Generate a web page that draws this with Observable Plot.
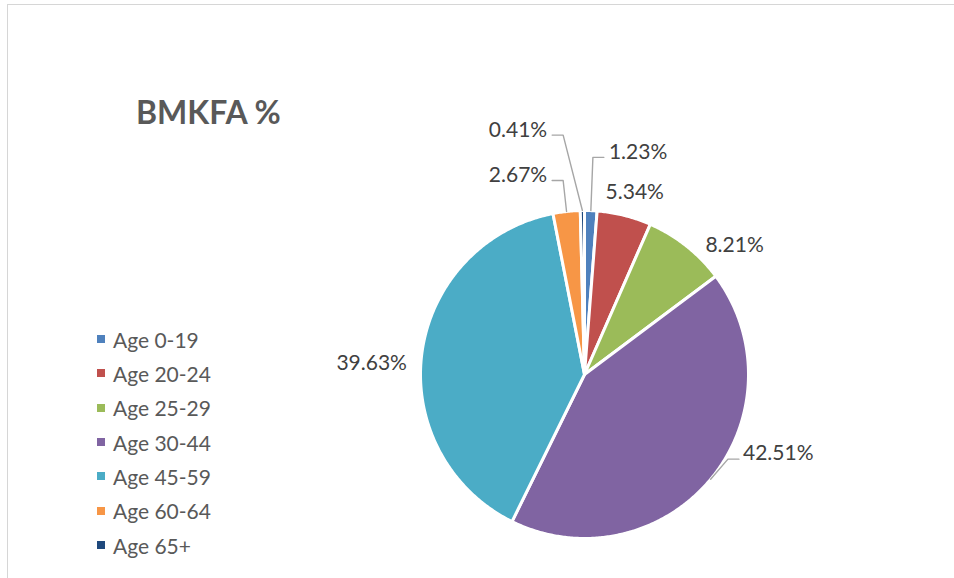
<!DOCTYPE html>
<html>
<head>
<meta charset="utf-8">
<script src="https://cdn.jsdelivr.net/npm/d3@7"></script>
<script src="https://cdn.jsdelivr.net/npm/@observablehq/plot@0.6"></script>
<style>
  body { margin: 0; background: #fff; }
  #wrap { position: relative; width: 954px; height: 578px; overflow: hidden; font-family: Lato, "Open Sans", sans-serif; }
  #frame { position: absolute; left: 7px; top: 4px; width: 1100px; height: 800px; border: 1px solid #d6d6d6; box-sizing: border-box; }
  #chart { position: absolute; left: 0; top: 0; }
  #title { position: absolute; left: 136px; top: 93px; font-size: 32px; line-height: 38px; font-weight: bold; color: #595959; white-space: nowrap; }
  #legend { position: absolute; left: 97px; top: 322px; }
  .row { display: flex; align-items: center; height: 34.33px; }
  .sw { width: 8px; height: 8px; margin-right: 8px; }
  .lt { font-size: 21px; line-height: 25px; color: #595959; white-space: nowrap; }
</style>
</head>
<body>
<div id="wrap">
  <div id="frame"></div>
  <div id="chart"></div>
  <div id="title"></div>
  <div id="legend"></div>
</div>
<script>
// ---- data ----
const chartTitle = "BMKFA %";
const ages = ["Age 0-19", "Age 20-24", "Age 25-29", "Age 30-44", "Age 45-59", "Age 60-64", "Age 65+"];
const shares = [1.23, 5.34, 8.21, 42.51, 39.63, 2.67, 0.41];
const colors = ["#4F81BD", "#C0504D", "#9BBB59", "#8064A2", "#4BACC6", "#F79646", "#1F497D"];
const labels = shares.map(v => v.toFixed(2) + "%");

// ---- layout (styles) ----
const W = 954, H = 578;
const R = 164, CX = 584, CY = 374;           // pie radius / centre in px
const FS = 21;                               // label font size
const labelNudgeDeg = [0, 0, 8, -15, -4, 0, 0]; // best-fit style angular nudge of labels
const px = 1 / R;                            // one pixel in scale units

const arcs = d3.pie().sort(null).value(d => d)(shares);

// slice polygons in unit-circle space (angle clockwise from 12 o'clock)
const slicePts = arcs.flatMap((a, i) => {
  const n = Math.max(2, Math.ceil((a.endAngle - a.startAngle) / (Math.PI / 360)));
  const pts = [{age: ages[i], x: 0, y: 0}];
  for (let k = 0; k <= n; k++) {
    const t = a.startAngle + (a.endAngle - a.startAngle) * k / n;
    pts.push({age: ages[i], x: Math.sin(t), y: Math.cos(t)});
  }
  return pts;
});

// label measurement
const ctx = document.createElement("canvas").getContext("2d");
ctx.font = `${FS}px Lato`;
const tw = s => ctx.measureText(s).width * px;

const labelRows = [];
const leaderPts = [];

// tiny slices: stacked labels with elbow leader lines
const tiny = shares.map((v, i) => i).filter(i => shares[i] < 3).sort((a, b) => shares[b] - shares[a]);
let lastLeft = Infinity, lastRight = -Infinity;
tiny.forEach((i, k) => {
  const a = arcs[i];
  const mid = (a.startAngle + a.endAngle) / 2;
  const s = Math.sin(mid) > 0 ? 1 : -1;
  const rho = 1.19 + 0.135 * k;
  let ex = Math.sin(mid) * rho;
  const ey = Math.cos(mid) * rho;
  if (s < 0) { ex = Math.min(ex, lastLeft); lastLeft = ex; }
  else { ex = Math.max(ex, lastRight); lastRight = ex; }
  const tx = ex + s * 11 * px;
  leaderPts.push({id: i, x: Math.sin(mid), y: Math.cos(mid)}, {id: i, x: ex, y: ey}, {id: i, x: tx, y: ey});
  const w = tw(labels[i]);
  labelRows.push({text: labels[i], x: tx + s * (5 * px + w / 2), y: ey + 5 * px});
});

// other slices: outside labels
arcs.forEach((a, i) => {
  if (shares[i] < 3) return;
  const mid = (a.startAngle + a.endAngle) / 2;
  const th = mid + labelNudgeDeg[i] * Math.PI / 180;
  const w = tw(labels[i]), h = 20 * px, Rl = 1 + 14 * px;
  const cx = Math.sin(th) * (Rl + w / 2);
  const cy = Math.cos(th) * (Rl + h / 2);
  labelRows.push({text: labels[i], x: cx, y: cy});
  if (Math.abs(labelNudgeDeg[i]) > 12) {
    const s = Math.sin(th) > 0 ? 1 : -1;
    const near = cx - s * w / 2;
    const ly = cy - 6 * px;
    leaderPts.push({id: i, x: Math.sin(mid), y: Math.cos(mid)},
                   {id: i, x: near - s * 15 * px, y: ly},
                   {id: i, x: near - s * 4 * px, y: ly});
  }
});

const chart = Plot.plot({
  width: W, height: H,
  marginLeft: CX - R, marginRight: W - CX - R,
  marginTop: CY - R, marginBottom: H - CY - R,
  x: {domain: [-1, 1], axis: null},
  y: {domain: [-1, 1], axis: null},
  color: {domain: ages, range: colors},
  style: {background: "transparent", fontFamily: "Lato, sans-serif"},
  marks: [
    Plot.line(slicePts, {x: "x", y: "y", z: "age", fill: "age", stroke: "white", strokeWidth: 3, strokeLinejoin: "round", curve: "linear-closed"}),
    Plot.line(leaderPts, {x: "x", y: "y", z: "id", stroke: "#a6a6a6", strokeWidth: 1.4, fill: "none"}),
    Plot.text(labelRows, {x: "x", y: "y", text: "text", fill: "#404040", fontSize: FS, textAnchor: "middle", lineAnchor: "middle"})
  ]
});
document.getElementById("chart").appendChild(chart);

document.getElementById("title").textContent = chartTitle;
const legend = document.getElementById("legend");
ages.forEach((g, i) => {
  const row = document.createElement("div");
  row.className = "row";
  const sw = document.createElement("div");
  sw.className = "sw";
  sw.style.background = colors[i];
  const t = document.createElement("div");
  t.className = "lt";
  t.textContent = g;
  row.appendChild(sw); row.appendChild(t);
  legend.appendChild(row);
});
</script>
</body>
</html>
